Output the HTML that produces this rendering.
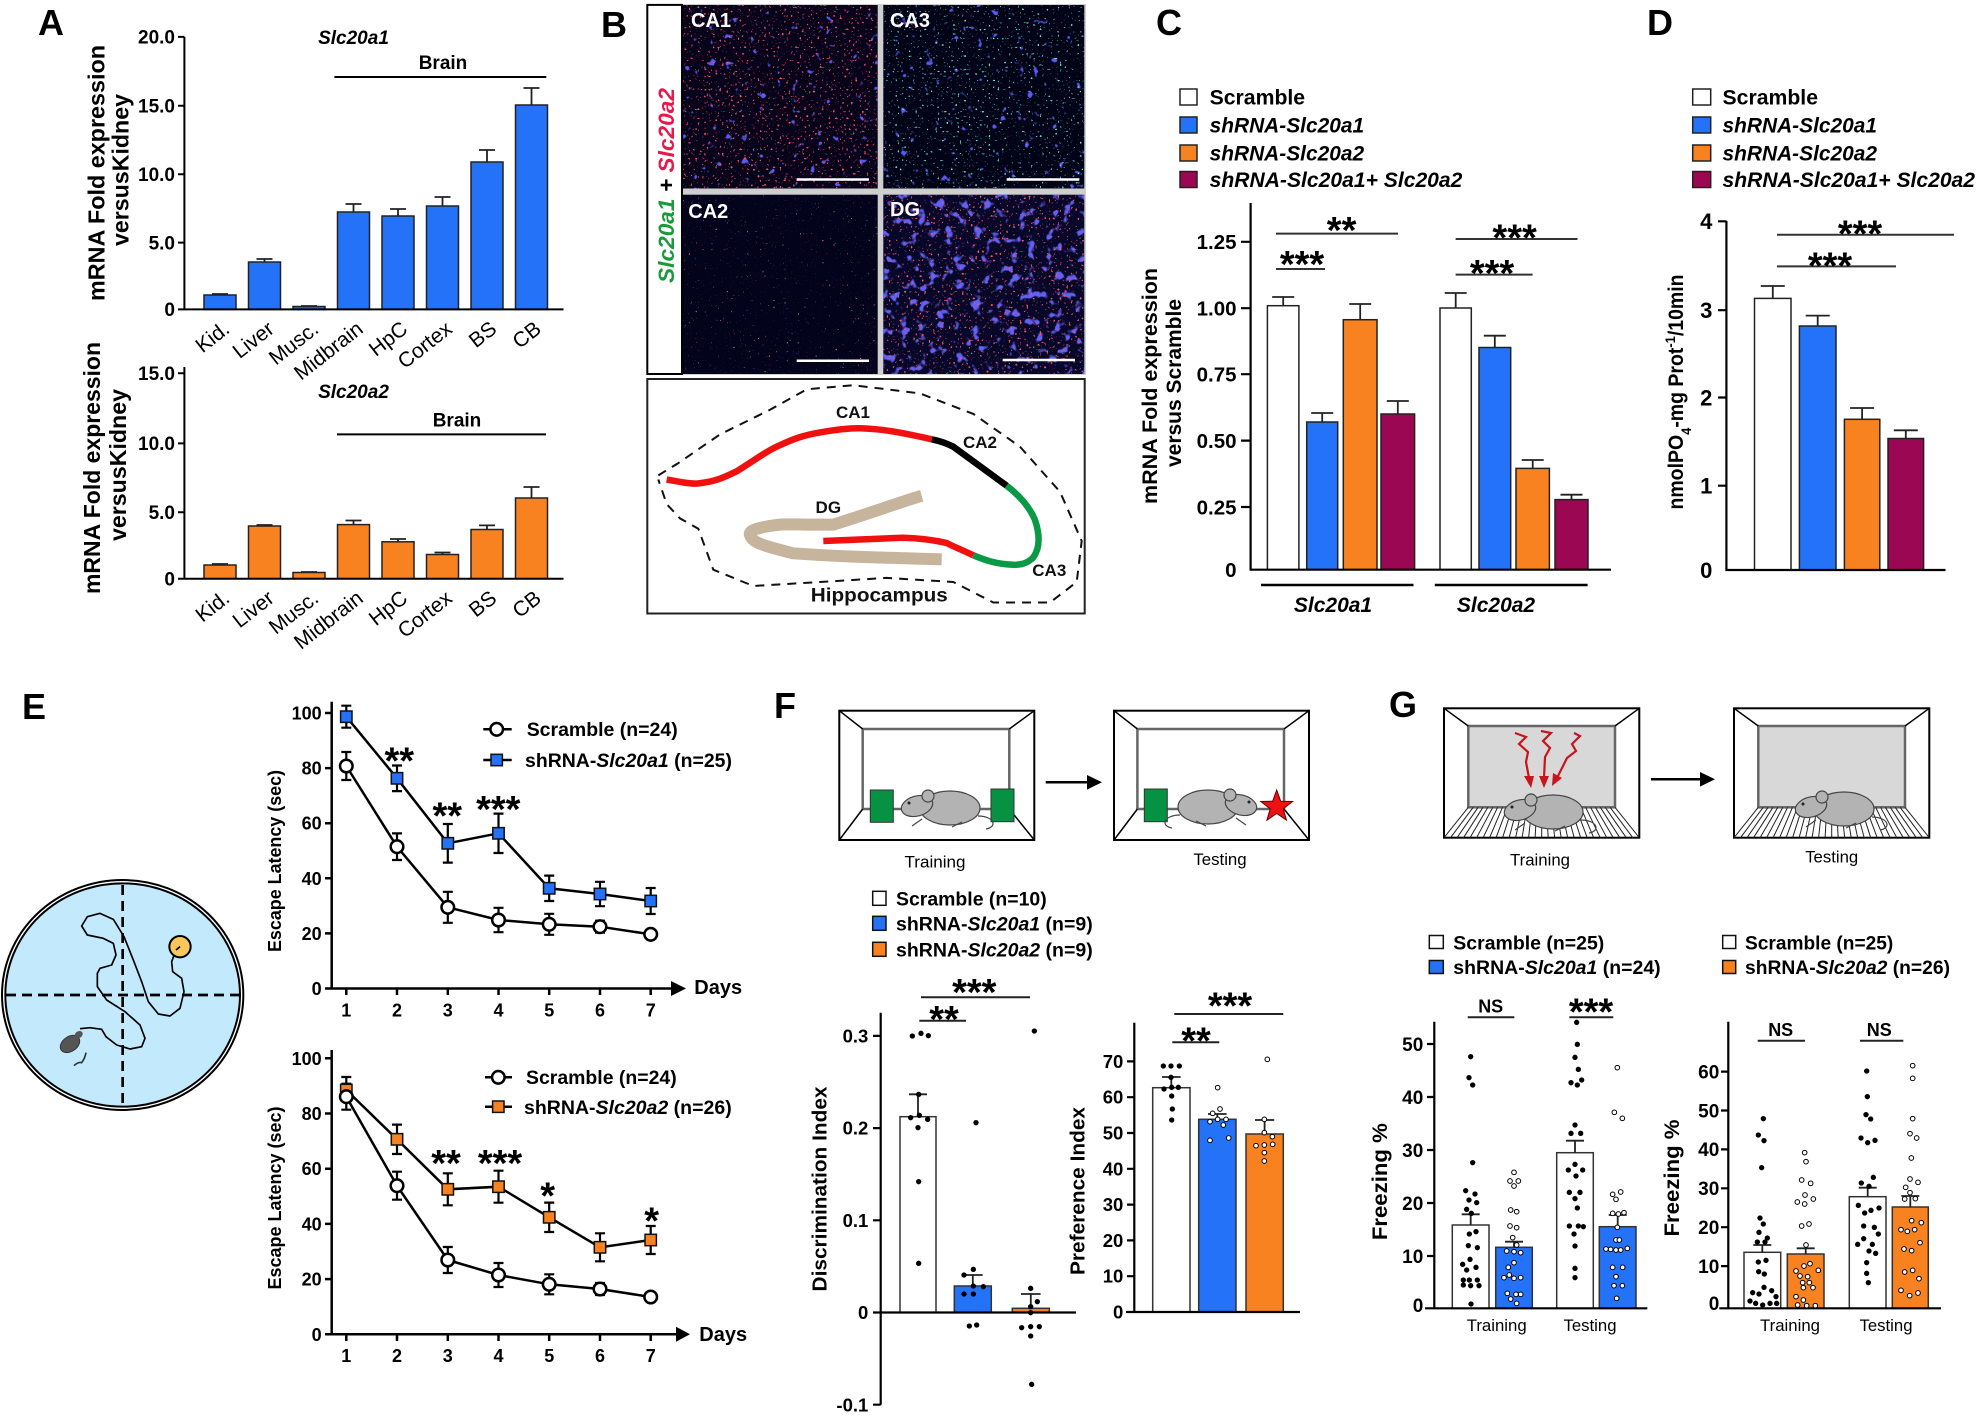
<!DOCTYPE html>
<html><head><meta charset="utf-8"><style>
html,body{margin:0;padding:0;background:#fff;}
svg{display:block;}
text{font-family:"Liberation Sans",Arial,sans-serif;}
</style></head><body>
<svg width="1976" height="1421" viewBox="0 0 1976 1421" xmlns="http://www.w3.org/2000/svg">
<rect width="1976" height="1421" fill="#fff"/>
<defs>
<filter id="blueS" x="0" y="0" width="1" height="1"><feTurbulence type="fractalNoise" baseFrequency="0.12" numOctaves="2" seed="3"/><feColorMatrix type="matrix" values="0 0 0 0 0.1 0 0 0 0 0.1 0 0 0 0 0.9 12 0 0 0 -8.4"/></filter>
<filter id="blueD" x="0" y="0" width="1" height="1"><feTurbulence type="fractalNoise" baseFrequency="0.11" numOctaves="2" seed="5"/><feColorMatrix type="matrix" values="0 0 0 0 0.12 0 0 0 0 0.12 0 0 0 0 0.92 8 0 0 0 -4.7"/></filter>
<filter id="blueF" x="0" y="0" width="1" height="1"><feTurbulence type="fractalNoise" baseFrequency="0.6" numOctaves="1" seed="9"/><feColorMatrix type="matrix" values="0 0 0 0 0.1 0 0 0 0 0.1 0 0 0 0 0.65 10 0 0 0 -7"/></filter>
<filter id="redS" x="0" y="0" width="1" height="1"><feTurbulence type="fractalNoise" baseFrequency="0.45" numOctaves="1" seed="7"/><feColorMatrix type="matrix" values="0 0 0 0 1 0 0 0 0 0.08 0 0 0 0 0.12 14 0 0 0 -9.0"/></filter>
<filter id="redT" x="0" y="0" width="1" height="1"><feTurbulence type="fractalNoise" baseFrequency="0.45" numOctaves="1" seed="13"/><feColorMatrix type="matrix" values="0 0 0 0 1 0 0 0 0 0.1 0 0 0 0 0.2 14 0 0 0 -10.2"/></filter>
<filter id="grnS" x="0" y="0" width="1" height="1"><feTurbulence type="fractalNoise" baseFrequency="0.45" numOctaves="1" seed="11"/><feColorMatrix type="matrix" values="0 0 0 0 0.1 0 0 0 0 0.9 0 0 0 0 0.6 14 0 0 0 -9.4"/></filter>
<g id="mouse">
 <path d="M78 30 C94 30 98 41 86 43" fill="none" stroke="#444" stroke-width="1.2"/>
 <ellipse cx="50" cy="22" rx="30" ry="17" fill="#b3b3b3" stroke="#444" stroke-width="1.2"/>
 <ellipse cx="17" cy="20" rx="16" ry="10" fill="#b3b3b3" stroke="#444" stroke-width="1.2" transform="rotate(-15 17 20)"/>
 <circle cx="28" cy="10" r="6" fill="#b3b3b3" stroke="#444" stroke-width="1.2"/>
 <circle cx="9" cy="17" r="1.5" fill="#222"/>
 <path d="M22 33 L12 40 M62 36 L52 41" stroke="#444" stroke-width="1.2"/>
</g>
<g id="hatch" stroke="#222" stroke-width="1">
<path d="M1468.3 807.3L1444 837.7M1473.2 807.3L1450.5 837.7M1478.1 807.3L1457 837.7M1483 807.3L1463.5 837.7M1487.9 807.3L1470 837.7M1492.8 807.3L1476.6 837.7M1497.6 807.3L1483.1 837.7M1502.5 807.3L1489.6 837.7M1507.4 807.3L1496.1 837.7M1512.3 807.3L1502.6 837.7M1517.2 807.3L1509.1 837.7M1522.1 807.3L1515.6 837.7M1527 807.3L1522.1 837.7M1531.9 807.3L1528.6 837.7M1536.8 807.3L1535.1 837.7M1541.7 807.3L1541.7 837.7M1546.5 807.3L1548.2 837.7M1551.4 807.3L1554.7 837.7M1556.3 807.3L1561.2 837.7M1561.2 807.3L1567.7 837.7M1566.1 807.3L1574.2 837.7M1571 807.3L1580.7 837.7M1575.9 807.3L1587.2 837.7M1580.8 807.3L1593.7 837.7M1585.7 807.3L1600.2 837.7M1590.6 807.3L1606.8 837.7M1595.4 807.3L1613.3 837.7M1600.3 807.3L1619.8 837.7M1605.2 807.3L1626.3 837.7M1610.1 807.3L1632.8 837.7M1615 807.3L1639.3 837.7"/>
</g>
<g id="gbox">
 <rect x="1444" y="708.3" width="195.3" height="129.4" fill="#fff" stroke="#000" stroke-width="2"/>
 <rect x="1468.3" y="726" width="146.7" height="81.3" fill="#d8d8d8" stroke="#666" stroke-width="2.5"/>
 <path d="M1444 708.3L1468.3 726M1639.3 708.3L1615 726" stroke="#000" stroke-width="1.5"/>
 <use href="#hatch"/>
</g>
<g id="fbox">
 <rect x="839.3" y="710.7" width="195" height="129.3" fill="#fff" stroke="#000" stroke-width="2"/>
 <rect x="862.7" y="729" width="146.6" height="80" fill="none" stroke="#666" stroke-width="2.5"/>
 <path d="M839.3 710.7L862.7 729M1034.3 710.7L1009.3 729M839.3 840L862.7 809M1034.3 840L1009.3 809" stroke="#000" stroke-width="1.5"/>
</g>
</defs>

<!-- Panel letters -->
<g font-weight="bold" font-size="36">
<text x="38" y="35">A</text><text x="601" y="37">B</text><text x="1156" y="35">C</text><text x="1647" y="35">D</text>
<text x="22" y="719">E</text><text x="774" y="718">F</text><text x="1389" y="717">G</text>
</g>

<!-- ============ PANEL A TOP ============ -->
<g fill="#2372f8" stroke="#222" stroke-width="1.5">
<rect x="204" y="295" width="32" height="14.4"/><rect x="248.5" y="262" width="32" height="47.4"/>
<rect x="293" y="306.5" width="32" height="2.9"/><rect x="337.5" y="212" width="32" height="97.4"/>
<rect x="382" y="216" width="32" height="93.4"/><rect x="426.5" y="206" width="32" height="103.4"/>
<rect x="471" y="162" width="32" height="147.4"/><rect x="515.5" y="105" width="32" height="204.4"/>
</g>
<path d="M212 294H228M264.5 262V259M256.5 259H272.5M301 306H317M353.5 212V204M345.5 204H361.5M398 216V209M390 209H406M442.5 206V197M434.5 197H450.5M487 162V150M479 150H495M531.5 105V88M523.5 88H539.5" stroke="#222" stroke-width="1.8" fill="none"/>
<path d="M184.4 36.9V309.4H563.5M178 36.9H184.4M178 105.7H184.4M178 174.2H184.4M178 242.6H184.4M178 309.4H184.4" stroke="#000" stroke-width="2" fill="none"/>
<g font-weight="bold" font-size="19" text-anchor="end">
<text x="175" y="43.7">20.0</text><text x="175" y="112.5">15.0</text><text x="175" y="181">10.0</text><text x="175" y="249.4">5.0</text><text x="175" y="316.2">0</text>
</g>
<text x="353.5" y="44" font-weight="bold" font-style="italic" font-size="19" text-anchor="middle">Slc20a1</text>
<text x="443" y="69" font-weight="bold" font-size="19" text-anchor="middle">Brain</text>
<path d="M334.4 77H546.3" stroke="#000" stroke-width="2"/>
<g font-size="21" text-anchor="end">
<text transform="translate(231,331.4) rotate(-38)">Kid.</text>
<text transform="translate(275.5,331.4) rotate(-38)">Liver</text>
<text transform="translate(320,331.4) rotate(-38)">Musc.</text>
<text transform="translate(364.5,331.4) rotate(-38)">Midbrain</text>
<text transform="translate(409,331.4) rotate(-38)">HpC</text>
<text transform="translate(453.5,331.4) rotate(-38)">Cortex</text>
<text transform="translate(498,331.4) rotate(-38)">BS</text>
<text transform="translate(542.5,331.4) rotate(-38)">CB</text>
</g>
<g font-weight="bold" font-size="23" text-anchor="middle">
<text transform="translate(104.5,173) rotate(-90)" textLength="256" lengthAdjust="spacingAndGlyphs">mRNA Fold expression</text>
<text transform="translate(128.5,170) rotate(-90)" textLength="152" lengthAdjust="spacingAndGlyphs">versusKidney</text>
</g>

<!-- ============ PANEL A BOTTOM ============ -->
<g fill="#f7821f" stroke="#222" stroke-width="1.5">
<rect x="204" y="565" width="32" height="13.7"/><rect x="248.5" y="526" width="32" height="52.7"/>
<rect x="293" y="572.5" width="32" height="6.2"/><rect x="337.5" y="524.6" width="32" height="54.1"/>
<rect x="382" y="541.8" width="32" height="36.9"/><rect x="426.5" y="554.5" width="32" height="24.2"/>
<rect x="471" y="529.5" width="32" height="49.2"/><rect x="515.5" y="498" width="32" height="80.7"/>
</g>
<path d="M212 564H228M256.5 525H272.5M301 572H317M353.5 524.6V520.5M345.5 520.5H361.5M398 541.8V539M390 539H406M442.5 554.5V552.5M434.5 552.5H450.5M487 529.5V525.4M479 525.4H495M531.5 498V487M523.5 487H539.5" stroke="#222" stroke-width="1.8" fill="none"/>
<path d="M184.4 367V578.7H563.5M178 373.2H184.4M178 443.4H184.4M178 512.3H184.4M178 578.7H184.4" stroke="#000" stroke-width="2" fill="none"/>
<g font-weight="bold" font-size="19" text-anchor="end">
<text x="175" y="380">15.0</text><text x="175" y="450.2">10.0</text><text x="175" y="519.1">5.0</text><text x="175" y="585.5">0</text>
</g>
<text x="353.5" y="398" font-weight="bold" font-style="italic" font-size="19" text-anchor="middle">Slc20a2</text>
<text x="457" y="426.5" font-weight="bold" font-size="19" text-anchor="middle">Brain</text>
<path d="M337 434.4H546" stroke="#000" stroke-width="2"/>
<g font-size="21" text-anchor="end">
<text transform="translate(231,600.7) rotate(-38)">Kid.</text>
<text transform="translate(275.5,600.7) rotate(-38)">Liver</text>
<text transform="translate(320,600.7) rotate(-38)">Musc.</text>
<text transform="translate(364.5,600.7) rotate(-38)">Midbrain</text>
<text transform="translate(409,600.7) rotate(-38)">HpC</text>
<text transform="translate(453.5,600.7) rotate(-38)">Cortex</text>
<text transform="translate(498,600.7) rotate(-38)">BS</text>
<text transform="translate(542.5,600.7) rotate(-38)">CB</text>
</g>
<g font-weight="bold" font-size="23" text-anchor="middle">
<text transform="translate(100,468) rotate(-90)" textLength="252" lengthAdjust="spacingAndGlyphs">mRNA Fold expression</text>
<text transform="translate(126,465) rotate(-90)" textLength="152" lengthAdjust="spacingAndGlyphs">versusKidney</text>
</g>

<!-- ============ PANEL B ============ -->
<rect x="680" y="4" width="406" height="371" fill="#cfcfcf"/>
<rect x="682" y="5" width="195.7" height="183.5" fill="#07031a"/>
<rect x="682" y="5" width="195.7" height="183.5" filter="url(#blueS)"/>
<rect x="682" y="5" width="195.7" height="183.5" filter="url(#redS)"/>
<rect x="883.3" y="5" width="201" height="183.5" fill="#030318"/>
<rect x="883.3" y="5" width="201" height="183.5" filter="url(#blueS)"/>
<rect x="883.3" y="5" width="201" height="183.5" filter="url(#grnS)"/>
<rect x="682" y="194.7" width="195.7" height="179.3" fill="#03031c"/>
<rect x="682" y="194.7" width="195.7" height="179.3" filter="url(#blueF)"/>
<rect x="682" y="194.7" width="195.7" height="179.3" filter="url(#redT)"/>
<rect x="883.3" y="194.7" width="201" height="179.3" fill="#07072a"/>
<rect x="883.3" y="194.7" width="201" height="179.3" filter="url(#blueD)"/>
<rect x="883.3" y="194.7" width="201" height="179.3" filter="url(#redS)"/>
<rect x="647.3" y="4.9" width="34.7" height="369.1" fill="#fff" stroke="#000" stroke-width="2"/>
<g font-weight="bold" font-size="20" fill="#fff">
<text x="691" y="27">CA1</text><text x="890" y="27">CA3</text><text x="688.3" y="218">CA2</text><text x="890" y="216">DG</text>
</g>
<path d="M796.7 179.5H869M1006.7 179.5H1079.3M796.7 360.7H869M1002.7 360H1075" stroke="#fff" stroke-width="2.5"/>
<text transform="translate(674,185.5) rotate(-90)" text-anchor="middle" font-weight="bold" font-style="italic" font-size="22.5" textLength="195" lengthAdjust="spacingAndGlyphs"><tspan fill="#1a9a3a">Slc20a1</tspan><tspan fill="#000"> + </tspan><tspan fill="#e8194a">Slc20a2</tspan></text>
<rect x="647.3" y="379" width="437.4" height="234.5" fill="#fff" stroke="#222" stroke-width="2"/>
<path d="M658.3 475.4L678.3 463.1L720 434.4L770 409.8L806.7 389.3L853.3 385.2L920 393.4L973.3 413.9L1020 446.7L1060 491.8L1081.7 541L1076.7 582L1050 602.5L993.3 602.5L953.3 582L886.7 577.9L820 582L753.3 586L713.3 569.7L698.3 528.7L680 518.4L666.7 504.1L658.3 479.5" fill="none" stroke="#111" stroke-width="2" stroke-dasharray="9 7"/>
<path d="M921.7 495.9C900 502 880 510 833.3 524.6C810 525 790 524 780 524.6C760 527 748 530 750 535C752 542 760 545 793.3 553.3C830 556 860 557 941.7 559.4" fill="none" stroke="#c6b49c" stroke-width="12"/>
<path d="M666.7 479.5C680 482 690 484 696.7 483.6C715 482 725 477 736.7 471.3C755 460 765 452 776.7 446.7C795 438 805 435 820 432.4C840 429 850 428 860 428.3C880 429 895 431 931.7 439.3" fill="none" stroke="#f01010" stroke-width="6.5"/>
<path d="M931.7 439.3C940 441 946 443 953.3 446.7L1006.7 485.7" fill="none" stroke="#000" stroke-width="6.5"/>
<path d="M1006.7 485.7C1020 496 1030 508 1035 520C1040 535 1040 548 1033.3 557.4C1027 564 1020 565 1013.3 564.8C995 564 985 560 973.3 555.3" fill="none" stroke="#0a9a45" stroke-width="6.5"/>
<path d="M973.3 555.3C960 549 950 545 946.7 543C930 539 915 538 903.3 537.7L823.3 541" fill="none" stroke="#f01010" stroke-width="6.5"/>
<g font-weight="bold" font-size="17" text-anchor="middle" fill="#111">
<text x="853" y="418">CA1</text><text x="980" y="448">CA2</text><text x="828.3" y="513">DG</text><text x="1049.3" y="576">CA3</text>
<text x="879.3" y="601.5" font-size="19" textLength="137" lengthAdjust="spacingAndGlyphs">Hippocampus</text>
</g>

<!-- ============ PANEL C ============ -->
<g stroke="#222" stroke-width="1.5">
<rect x="1180" y="89" width="17" height="16" fill="#fff"/>
<rect x="1180" y="117" width="17" height="16" fill="#2372f8"/>
<rect x="1180" y="145" width="17" height="16" fill="#f7821f"/>
<rect x="1180" y="171.5" width="17" height="16" fill="#9b0753"/>
<rect x="1692.7" y="89" width="18" height="16" fill="#fff"/>
<rect x="1692.7" y="117" width="18" height="16" fill="#2372f8"/>
<rect x="1692.7" y="145" width="18" height="16" fill="#f7821f"/>
<rect x="1692.7" y="171.5" width="18" height="16" fill="#9b0753"/>
</g>
<g font-weight="bold" font-size="21">
<text x="1209.6" y="104.5" textLength="95.5" lengthAdjust="spacingAndGlyphs">Scramble</text>
<text x="1209.6" y="132.5" font-style="italic" textLength="154.5" lengthAdjust="spacingAndGlyphs">shRNA-Slc20a1</text>
<text x="1209.6" y="160.4" font-style="italic" textLength="154.5" lengthAdjust="spacingAndGlyphs">shRNA-Slc20a2</text>
<text x="1209.6" y="187" font-style="italic" textLength="252.8" lengthAdjust="spacingAndGlyphs">shRNA-Slc20a1+ Slc20a2</text>
<text x="1722.5" y="104.5" textLength="95.5" lengthAdjust="spacingAndGlyphs">Scramble</text>
<text x="1722.5" y="132.5" font-style="italic" textLength="154.5" lengthAdjust="spacingAndGlyphs">shRNA-Slc20a1</text>
<text x="1722.5" y="160.4" font-style="italic" textLength="154.5" lengthAdjust="spacingAndGlyphs">shRNA-Slc20a2</text>
<text x="1722.5" y="187" font-style="italic" textLength="252.5" lengthAdjust="spacingAndGlyphs">shRNA-Slc20a1+ Slc20a2</text>
</g>
<g stroke="#222" stroke-width="1.5">
<rect x="1267.4" y="305.7" width="31.5" height="264" fill="#fff"/>
<rect x="1306.7" y="422" width="31" height="147.7" fill="#2372f8"/>
<rect x="1343.3" y="319.7" width="33.7" height="250" fill="#f7821f"/>
<rect x="1381" y="414" width="33.6" height="155.7" fill="#9b0753"/>
<rect x="1440" y="308" width="31.3" height="261.7" fill="#fff"/>
<rect x="1479" y="347.5" width="31.7" height="222.2" fill="#2372f8"/>
<rect x="1516" y="468.4" width="33.4" height="101.3" fill="#f7821f"/>
<rect x="1555" y="499.6" width="33" height="70.1" fill="#9b0753"/>
<rect x="1754.5" y="298.4" width="36.5" height="271.6" fill="#fff"/>
<rect x="1799.4" y="326" width="36.6" height="244" fill="#2372f8"/>
<rect x="1844.4" y="419.3" width="35.4" height="150.7" fill="#f7821f"/>
<rect x="1888" y="438.5" width="35.6" height="131.5" fill="#9b0753"/>
</g>
<path d="M1283.2 305.7V297M1272.2 297H1294.2M1322.2 422V413M1311.2 413H1333.2M1360.2 319.7V304M1349.2 304H1371.2M1397.8 414V401M1386.8 401H1408.8M1455.7 308V293M1444.7 293H1466.7M1494.8 347.5V335.7M1483.8 335.7H1505.8M1532.7 468.4V460M1521.7 460H1543.7M1571.5 499.6V494.7M1560.5 494.7H1582.5M1772.8 298.4V286M1760.8 286H1784.8M1817.7 326V315.6M1805.7 315.6H1829.7M1862.1 419.3V408M1850.1 408H1874.1M1905.8 438.5V430.3M1893.8 430.3H1917.8" stroke="#222" stroke-width="1.8" fill="none"/>
<path d="M1250.6 203V569.7H1611M1241 241.8H1250.6M1241 308.2H1250.6M1241 374.2H1250.6M1241 440.6H1250.6M1241 507H1250.6M1726.4 221V570H1945.5M1718 221.3H1726.4M1718 310.2H1726.4M1718 397.5H1726.4M1718 485.7H1726.4" stroke="#000" stroke-width="2.2" fill="none"/>
<path d="M1261 585H1413.5M1434.8 585H1587.6" stroke="#000" stroke-width="2.5"/>
<g font-weight="bold" font-size="20.5" text-anchor="end">
<text x="1236.5" y="249.1">1.25</text><text x="1236.5" y="315.5">1.00</text><text x="1236.5" y="381.5">0.75</text><text x="1236.5" y="447.9">0.50</text><text x="1236.5" y="514.3">0.25</text><text x="1236.5" y="577">0</text>
</g>
<g font-weight="bold" font-size="22" text-anchor="end">
<text x="1712.4" y="229">4</text><text x="1712.4" y="318">3</text><text x="1712.4" y="405.3">2</text><text x="1712.4" y="493.5">1</text><text x="1712.4" y="577.8">0</text>
</g>
<g font-weight="bold" font-style="italic" font-size="21" text-anchor="middle">
<text x="1333" y="612">Slc20a1</text><text x="1496" y="612">Slc20a2</text>
</g>
<g font-weight="bold" font-size="21" text-anchor="middle">
<text transform="translate(1157,386) rotate(-90)" textLength="236" lengthAdjust="spacingAndGlyphs">mRNA Fold expression</text>
<text transform="translate(1181,383) rotate(-90)" textLength="168" lengthAdjust="spacingAndGlyphs">versus Scramble</text>
<text transform="translate(1683,392) rotate(-90)" textLength="235" lengthAdjust="spacingAndGlyphs">nmolPO<tspan baseline-shift="sub" font-size="14">4</tspan>-mg Prot<tspan baseline-shift="super" font-size="14">-1</tspan>/10min</text>
</g>
<path d="M1276 233.6H1398M1276 269H1325M1455.6 239H1577.5M1455.6 274.6H1532.6M1777 234.8H1954M1777 266.4H1896" stroke="#333" stroke-width="2"/>
<g font-weight="bold" font-size="38" text-anchor="middle">
<text x="1341.6" y="242.8">**</text><text x="1302" y="276.8">***</text><text x="1514.6" y="250.5">***</text><text x="1492" y="285.8">***</text>
<text x="1860" y="246.4">***</text><text x="1830" y="278.4">***</text>
</g>

<!-- ============ PANEL E MAZE ============ -->
<g transform="translate(0,680) scale(0.33333)">
<ellipse cx="368" cy="945" rx="357" ry="340" fill="#c2e9fc" stroke="#000" stroke-width="16"/>
<ellipse cx="368" cy="945" rx="357" ry="340" fill="none" stroke="#fff" stroke-width="4"/>
<path d="M368 615V1278M18 945H718" stroke="#000" stroke-width="8" stroke-dasharray="30 18"/>
<polyline points="528,810 515,845 518,875 545,895 552,935 540,985 510,1008 475,1002 445,965 425,905 400,840 372,770 340,718 300,700 262,710 245,738 262,765 310,775 340,790 348,825 335,855 300,865 292,880 292,920 320,960 375,995 420,1035 435,1075 425,1100 390,1107 350,1095 318,1070 305,1048 270,1043 240,1046" fill="none" stroke="#000" stroke-width="5" stroke-linejoin="round"/>
<circle cx="540" cy="800" r="32" fill="#fbc75a" stroke="#000" stroke-width="6"/>
<path d="M528 810L540 800" stroke="#000" stroke-width="5"/>
<ellipse cx="210" cy="1092" rx="32" ry="22" fill="#555" stroke="#333" stroke-width="3" transform="rotate(-35 210 1092)"/>
<ellipse cx="236" cy="1064" rx="13" ry="10" fill="#555" transform="rotate(-35 236 1064)"/>
<path d="M222 1157Q235 1145 245 1148Q255 1135 258 1118" fill="none" stroke="#333" stroke-width="5"/>
</g>

<!-- ============ PANEL E TOP CHART ============ -->
<path d="M331.7 701.7V988.5H673M325 713H331.7M325 768.1H331.7M325 823.2H331.7M325 878.3H331.7M325 933.4H331.7M325 988.5H331.7M346.3 988.5V995M397 988.5V995M447.8 988.5V995M498.5 988.5V995M549.2 988.5V995M600 988.5V995M650.7 988.5V995" stroke="#000" stroke-width="2.5" fill="none"/>
<polygon points="671,981 686,988.5 671,996" fill="#000"/>
<g font-weight="bold" font-size="18" text-anchor="end">
<text x="321.7" y="719.5">100</text><text x="321.7" y="774.6">80</text><text x="321.7" y="829.7">60</text><text x="321.7" y="884.8">40</text><text x="321.7" y="939.9">20</text><text x="321.7" y="995">0</text>
</g>
<g font-weight="bold" font-size="18" text-anchor="middle">
<text x="346.3" y="1016.5">1</text><text x="397" y="1016.5">2</text><text x="447.8" y="1016.5">3</text><text x="498.5" y="1016.5">4</text><text x="549.2" y="1016.5">5</text><text x="600" y="1016.5">6</text><text x="650.7" y="1016.5">7</text>
</g>
<text x="694.3" y="994" font-weight="bold" font-size="20">Days</text>
<text transform="translate(281,861) rotate(-90)" text-anchor="middle" font-weight="bold" font-size="18" textLength="182" lengthAdjust="spacingAndGlyphs">Escape Latency (sec)</text>
<g fill="none" stroke="#000" stroke-width="2.5">
<polyline points="346.3,716.7 397,778.3 447.8,843.3 498.5,833.3 549.2,888.3 600,894 650.7,901"/>
<polyline points="346.3,766 397,846.7 447.8,907.3 498.5,920 549.2,924.3 600,926.7 650.7,934.3"/>
</g>
<path d="M346.3 752V780M341.3 752H351.3M341.3 780H351.3M397 833.4V860M392 833.4H402M392 860H402M447.8 891.8V922.8M442.8 891.8H452.8M442.8 922.8H452.8M498.5 907.8V932.2M493.5 907.8H503.5M493.5 932.2H503.5M549.2 913.8V934.8M544.2 913.8H554.2M544.2 934.8H554.2M600 920.7V932.7M595 920.7H605M595 932.7H605M346.3 705.7V727.7M341.3 705.7H351.3M341.3 727.7H351.3M397 765.5V791.1M392 765.5H402M392 791.1H402M447.8 824V862.6M442.8 824H452.8M442.8 862.6H452.8M498.5 813.6V853M493.5 813.6H503.5M493.5 853H503.5M549.2 875.6V901M544.2 875.6H554.2M544.2 901H554.2M600 881.8V906.2M595 881.8H605M595 906.2H605M650.7 888V914M645.7 888H655.7M645.7 914H655.7" stroke="#000" stroke-width="2.2" fill="none"/>
<g fill="#2372f8" stroke="#111" stroke-width="1.5">
<rect x="340.6" y="711" width="11.4" height="11.4"/><rect x="391.3" y="772.6" width="11.4" height="11.4"/><rect x="442.1" y="837.6" width="11.4" height="11.4"/><rect x="492.8" y="827.6" width="11.4" height="11.4"/><rect x="543.5" y="882.6" width="11.4" height="11.4"/><rect x="594.3" y="888.3" width="11.4" height="11.4"/><rect x="645" y="895.3" width="11.4" height="11.4"/>
</g>
<g fill="#fff" stroke="#000" stroke-width="2.5">
<circle cx="346.3" cy="766" r="6.3"/><circle cx="397" cy="846.7" r="6.3"/><circle cx="447.8" cy="907.3" r="6.3"/><circle cx="498.5" cy="920" r="6.3"/><circle cx="549.2" cy="924.3" r="6.3"/><circle cx="600" cy="926.7" r="6.3"/><circle cx="650.7" cy="934.3" r="6.3"/>
</g>
<path d="M483.3 729.3H511.7M483.3 760H511.7" stroke="#000" stroke-width="2.5"/>
<circle cx="496.7" cy="729.3" r="6.3" fill="#fff" stroke="#000" stroke-width="2.5"/>
<rect x="491" y="754.3" width="11.4" height="11.4" fill="#2372f8" stroke="#111" stroke-width="1.5"/>
<g font-weight="bold" font-size="19.5">
<text x="526.7" y="736" textLength="151" lengthAdjust="spacingAndGlyphs">Scramble (n=24)</text>
<text x="525" y="767" textLength="207" lengthAdjust="spacingAndGlyphs">shRNA-<tspan font-style="italic">Slc20a1</tspan> (n=25)</text>
</g>
<g font-weight="bold" font-size="38" text-anchor="middle">
<text x="399.3" y="773.5">**</text><text x="447.3" y="828.5">**</text><text x="498.3" y="821.8">***</text>
</g>

<!-- ============ PANEL E BOTTOM CHART ============ -->
<path d="M331.7 1050V1334.3H677M325 1058.3H331.7M325 1113.5H331.7M325 1168.7H331.7M325 1223.9H331.7M325 1279.1H331.7M325 1334.3H331.7M346.3 1334.3V1341M397 1334.3V1341M447.8 1334.3V1341M498.5 1334.3V1341M549.2 1334.3V1341M600 1334.3V1341M650.7 1334.3V1341" stroke="#000" stroke-width="2.5" fill="none"/>
<polygon points="676,1326.8 690,1334.3 676,1341.8" fill="#000"/>
<g font-weight="bold" font-size="18" text-anchor="end">
<text x="321.7" y="1064.8">100</text><text x="321.7" y="1120">80</text><text x="321.7" y="1175.2">60</text><text x="321.7" y="1230.4">40</text><text x="321.7" y="1285.6">20</text><text x="321.7" y="1340.8">0</text>
</g>
<g font-weight="bold" font-size="18" text-anchor="middle">
<text x="346.3" y="1362">1</text><text x="397" y="1362">2</text><text x="447.8" y="1362">3</text><text x="498.5" y="1362">4</text><text x="549.2" y="1362">5</text><text x="600" y="1362">6</text><text x="650.7" y="1362">7</text>
</g>
<text x="699.3" y="1341" font-weight="bold" font-size="20">Days</text>
<text transform="translate(281,1198) rotate(-90)" text-anchor="middle" font-weight="bold" font-size="18" textLength="183" lengthAdjust="spacingAndGlyphs">Escape Latency (sec)</text>
<g fill="none" stroke="#000" stroke-width="2.5">
<polyline points="346.3,1090 397,1139.3 447.8,1189.3 498.5,1186.7 549.2,1217.3 600,1247.3 650.7,1240"/>
<polyline points="346.3,1096.7 397,1185.7 447.8,1260 498.5,1275 549.2,1284.3 600,1289 650.7,1297"/>
</g>
<path d="M346.3 1083.7V1109.7M341.3 1083.7H351.3M341.3 1109.7H351.3M397 1171.7V1199.7M392 1171.7H402M392 1199.7H402M447.8 1247V1273M442.8 1247H452.8M442.8 1273H452.8M498.5 1263V1287M493.5 1263H503.5M493.5 1287H503.5M549.2 1274.3V1294.3M544.2 1274.3H554.2M544.2 1294.3H554.2M600 1283V1295M595 1283H605M595 1295H605M346.3 1077V1103M341.3 1077H351.3M397 1124.6V1154M392 1124.6H402M392 1154H402M447.8 1173.3V1205.3M442.8 1173.3H452.8M442.8 1205.3H452.8M498.5 1170.7V1202.7M493.5 1170.7H503.5M493.5 1202.7H503.5M549.2 1202.6V1232M544.2 1202.6H554.2M544.2 1232H554.2M600 1233.3V1261.3M595 1233.3H605M595 1261.3H605M650.7 1226V1254M645.7 1226H655.7M645.7 1254H655.7" stroke="#000" stroke-width="2.2" fill="none"/>
<g fill="#f7821f" stroke="#111" stroke-width="1.5">
<rect x="340.6" y="1084.3" width="11.4" height="11.4"/><rect x="391.3" y="1133.6" width="11.4" height="11.4"/><rect x="442.1" y="1183.6" width="11.4" height="11.4"/><rect x="492.8" y="1181" width="11.4" height="11.4"/><rect x="543.5" y="1211.6" width="11.4" height="11.4"/><rect x="594.3" y="1241.6" width="11.4" height="11.4"/><rect x="645" y="1234.3" width="11.4" height="11.4"/>
</g>
<g fill="#fff" stroke="#000" stroke-width="2.5">
<circle cx="346.3" cy="1096.7" r="6.3"/><circle cx="397" cy="1185.7" r="6.3"/><circle cx="447.8" cy="1260" r="6.3"/><circle cx="498.5" cy="1275" r="6.3"/><circle cx="549.2" cy="1284.3" r="6.3"/><circle cx="600" cy="1289" r="6.3"/><circle cx="650.7" cy="1297" r="6.3"/>
</g>
<path d="M485 1077.3H512M485 1106.7H512" stroke="#000" stroke-width="2.5"/>
<circle cx="498.3" cy="1077.3" r="6.3" fill="#fff" stroke="#000" stroke-width="2.5"/>
<rect x="492.6" y="1101" width="11.4" height="11.4" fill="#f7821f" stroke="#111" stroke-width="1.5"/>
<g font-weight="bold" font-size="19.5">
<text x="526" y="1084" textLength="150.7" lengthAdjust="spacingAndGlyphs">Scramble (n=24)</text>
<text x="524" y="1114" textLength="207.7" lengthAdjust="spacingAndGlyphs">shRNA-<tspan font-style="italic">Slc20a2</tspan> (n=26)</text>
</g>
<g font-weight="bold" font-size="38" text-anchor="middle">
<text x="446" y="1175.8">**</text><text x="500" y="1175.8">***</text><text x="547.7" y="1208.5">*</text><text x="651.7" y="1233.5">*</text>
</g>

<!-- ============ PANEL F DIAGRAM ============ -->
<use href="#fbox"/>
<use href="#fbox" transform="translate(274.7,0)"/>
<rect x="870.3" y="790" width="23" height="32.3" fill="#079142" stroke="#333" stroke-width="1"/>
<rect x="991" y="789" width="23" height="32.7" fill="#079142" stroke="#333" stroke-width="1"/>
<rect x="1144.3" y="789" width="23" height="32.7" fill="#079142" stroke="#333" stroke-width="1"/>
<use href="#mouse" transform="translate(900,786)"/>
<use href="#mouse" transform="translate(1258,785) scale(-1,1)"/>
<polygon points="1276.7,790 1280.7,801.2 1292.6,801.5 1283.2,808.8 1286.5,820.2 1276.7,813.5 1266.9,820.2 1270.2,808.8 1260.8,801.5 1272.7,801.2" fill="#ee1111" stroke="#600" stroke-width="1"/>
<path d="M1045.7 782.3H1090" stroke="#000" stroke-width="2.5"/>
<polygon points="1087,775 1102,782.3 1087,789.6" fill="#000"/>
<g font-size="17" text-anchor="middle">
<text x="935" y="867.5" textLength="61" lengthAdjust="spacingAndGlyphs">Training</text>
<text x="1220" y="865" textLength="53.3" lengthAdjust="spacingAndGlyphs">Testing</text>
</g>
<g stroke="#111" stroke-width="1.5">
<rect x="872.7" y="891.3" width="13.3" height="14" fill="#fff"/>
<rect x="872.7" y="916.3" width="13.3" height="14" fill="#2372f8"/>
<rect x="872.7" y="942.3" width="13.3" height="14" fill="#f7821f"/>
</g>
<g font-weight="bold" font-size="19.5">
<text x="896" y="905.3" textLength="150.7" lengthAdjust="spacingAndGlyphs">Scramble (n=10)</text>
<text x="896" y="930.3" textLength="196.7" lengthAdjust="spacingAndGlyphs">shRNA-<tspan font-style="italic">Slc20a1</tspan> (n=9)</text>
<text x="896" y="956.3" textLength="196.7" lengthAdjust="spacingAndGlyphs">shRNA-<tspan font-style="italic">Slc20a2</tspan> (n=9)</text>
</g>

<!-- ============ PANEL F CHARTS ============ -->
<g stroke="#333" stroke-width="1.5">
<rect x="900" y="1116.7" width="36" height="195.8" fill="#fff"/>
<rect x="954.3" y="1286" width="37" height="26.5" fill="#2372f8"/>
<rect x="1012.3" y="1308.3" width="37" height="4.2" fill="#f7821f"/>
<rect x="1152.7" y="1087.7" width="37.3" height="224.3" fill="#fff"/>
<rect x="1198.7" y="1119.3" width="37.3" height="192.7" fill="#2372f8"/>
<rect x="1246" y="1134" width="37.3" height="178" fill="#f7821f"/>
</g>
<path d="M918 1116.7V1094.3M909 1094.3H927M972.8 1286V1275M963 1275H982.6M1030.8 1308.3V1294M1021 1294H1040.6M1171.3 1087.7V1077M1162 1077H1180.6M1217.3 1119.3V1114M1208 1114H1226.6M1264.6 1134V1120M1255 1120H1274.2" stroke="#222" stroke-width="1.8" fill="none"/>
<path d="M880.7 1012.7V1404.7M873 1035.9H880.7M873 1128.1H880.7M873 1220.3H880.7M873 1404.7H880.7M873 1312.5H1076M1134.3 1022.7V1312M1126 1312H1300M1127 1276.2H1134.3M1127 1240.4H1134.3M1127 1204.6H1134.3M1127 1168.8H1134.3M1127 1133H1134.3M1127 1097.2H1134.3M1127 1061.4H1134.3" stroke="#000" stroke-width="2.2" fill="none"/>
<g font-weight="bold" font-size="18.5" text-anchor="end">
<text x="868.3" y="1042.5">0.3</text><text x="868.3" y="1134.7">0.2</text><text x="868.3" y="1226.9">0.1</text><text x="868.3" y="1319.1">0</text><text x="868.3" y="1411.3">-0.1</text>
<text x="1123.3" y="1318.5">0</text><text x="1123.3" y="1282.7">10</text><text x="1123.3" y="1246.9">20</text><text x="1123.3" y="1211.1">30</text><text x="1123.3" y="1175.3">40</text><text x="1123.3" y="1139.5">50</text><text x="1123.3" y="1103.7">60</text><text x="1123.3" y="1067.9">70</text>
</g>
<g font-weight="bold" font-size="20" text-anchor="middle">
<text transform="translate(826.5,1189) rotate(-90)" textLength="205" lengthAdjust="spacingAndGlyphs">Discrimination Index</text>
<text transform="translate(1084.5,1191) rotate(-90)" textLength="168" lengthAdjust="spacingAndGlyphs">Preference Index</text>
</g>
<path d="M921 997.3H1030M919.3 1020.7H966M1174.3 1014H1283.3M1172.3 1042.3H1219.3" stroke="#222" stroke-width="2"/>
<g font-weight="bold" font-size="38" text-anchor="middle">
<text x="974.3" y="1005.1">***</text><text x="944" y="1031.8">**</text><text x="1230" y="1018.5">***</text><text x="1196" y="1053.5">**</text>
</g>
<g transform="translate(790,990) scale(0.33333)">
<g fill="#000">
<circle cx="367" cy="138" r="8"/><circle cx="393" cy="130" r="8"/><circle cx="415" cy="137" r="8"/><circle cx="386" cy="313" r="8"/><circle cx="362" cy="383" r="8"/><circle cx="388" cy="376" r="8"/><circle cx="413" cy="388" r="8"/><circle cx="384" cy="413" r="8"/><circle cx="386" cy="575" r="8"/><circle cx="386" cy="820" r="8"/>
<circle cx="522" cy="855" r="8"/><circle cx="550" cy="838" r="8"/><circle cx="550" cy="888" r="8"/><circle cx="580" cy="890" r="8"/><circle cx="522" cy="912" r="8"/><circle cx="550" cy="912" r="8"/><circle cx="558" cy="398" r="8"/><circle cx="538" cy="1008" r="8"/><circle cx="560" cy="1005" r="8"/>
<circle cx="733" cy="123" r="8"/><circle cx="722" cy="895" r="8"/><circle cx="742" cy="935" r="8"/><circle cx="722" cy="950" r="8"/><circle cx="722" cy="968" r="8"/><circle cx="695" cy="1013" r="8"/><circle cx="722" cy="1010" r="8"/><circle cx="748" cy="1010" r="8"/><circle cx="722" cy="1038" r="8"/><circle cx="725" cy="1183" r="8"/>
<circle cx="1120" cy="228" r="8"/><circle cx="1143" cy="228" r="8"/><circle cx="1168" cy="228" r="8"/><circle cx="1143" cy="262" r="8"/><circle cx="1122" cy="297" r="8"/><circle cx="1145" cy="292" r="8"/><circle cx="1165" cy="292" r="8"/><circle cx="1145" cy="318" r="8"/><circle cx="1147" cy="357" r="8"/><circle cx="1145" cy="390" r="8"/>
</g>
<g fill="#fff" stroke="#000" stroke-width="3">
<circle cx="1283" cy="293" r="7"/><circle cx="1268" cy="370" r="7"/><circle cx="1290" cy="357" r="7"/><circle cx="1283" cy="388" r="7"/><circle cx="1308" cy="388" r="7"/><circle cx="1260" cy="395" r="7"/><circle cx="1300" cy="405" r="7"/><circle cx="1260" cy="451" r="7"/><circle cx="1316" cy="444" r="7"/>
<circle cx="1432" cy="208" r="7"/><circle cx="1423" cy="388" r="7"/><circle cx="1423" cy="428" r="7"/><circle cx="1398" cy="467" r="7"/><circle cx="1423" cy="465" r="7"/><circle cx="1448" cy="463" r="7"/><circle cx="1447" cy="440" r="7"/><circle cx="1423" cy="488" r="7"/><circle cx="1423" cy="513" r="7"/>
</g>
</g>

<!-- ============ PANEL G DIAGRAM ============ -->
<use href="#gbox"/>
<use href="#gbox" transform="translate(290,0)"/>
<use href="#mouse" transform="translate(1503,790)"/>
<use href="#mouse" transform="translate(1794,787)"/>
<g fill="none" stroke="#c8141a" stroke-width="2.2">
<polyline points="1515,733 1526,737 1519,744 1528,752 1526,762 1529,778"/>
<polyline points="1541,731 1551,733 1543,741 1550,748 1545,757 1544,778"/>
<polyline points="1574,733 1580,736 1572,744 1576,751 1567,758 1558,776"/>
</g>
<g fill="#c8141a">
<polygon points="1524,776 1534,776 1531,788"/><polygon points="1539,776 1549,776 1544,788"/><polygon points="1553,773 1562,778 1552,786"/>
</g>
<path d="M1651 779.3H1703" stroke="#000" stroke-width="2.5"/>
<polygon points="1700,772 1715,779.3 1700,786.6" fill="#000"/>
<g font-size="17" text-anchor="middle">
<text x="1540" y="865.3" textLength="60" lengthAdjust="spacingAndGlyphs">Training</text>
<text x="1831.7" y="862.7" textLength="53" lengthAdjust="spacingAndGlyphs">Testing</text>
</g>
<g stroke="#111" stroke-width="1.5">
<rect x="1429.3" y="935.5" width="14" height="13" fill="#fff"/>
<rect x="1429.3" y="960.5" width="14" height="13" fill="#2372f8"/>
<rect x="1722.7" y="935.5" width="13" height="13" fill="#fff"/>
<rect x="1722.7" y="960.5" width="13" height="13" fill="#f7821f"/>
</g>
<g font-weight="bold" font-size="19.5">
<text x="1453.3" y="949.3" textLength="151" lengthAdjust="spacingAndGlyphs">Scramble (n=25)</text>
<text x="1453.3" y="974" textLength="207.4" lengthAdjust="spacingAndGlyphs">shRNA-<tspan font-style="italic">Slc20a1</tspan> (n=24)</text>
<text x="1745" y="949.3" textLength="148.3" lengthAdjust="spacingAndGlyphs">Scramble (n=25)</text>
<text x="1745" y="974" textLength="205" lengthAdjust="spacingAndGlyphs">shRNA-<tspan font-style="italic">Slc20a2</tspan> (n=26)</text>
</g>

<!-- ============ PANEL G CHARTS ============ -->
<g stroke="#333" stroke-width="1.5">
<rect x="1452.3" y="1225" width="36.7" height="83.3" fill="#fff"/>
<rect x="1495.7" y="1247.3" width="36.6" height="61" fill="#2372f8"/>
<rect x="1556.7" y="1152.7" width="36.6" height="155.6" fill="#fff"/>
<rect x="1599.3" y="1226.7" width="36.7" height="81.6" fill="#2372f8"/>
<rect x="1744" y="1252.3" width="36.7" height="56" fill="#fff"/>
<rect x="1787.3" y="1254" width="36.7" height="54.3" fill="#f7821f"/>
<rect x="1849.3" y="1196.7" width="36.7" height="111.6" fill="#fff"/>
<rect x="1892.3" y="1207" width="36" height="101.3" fill="#f7821f"/>
</g>
<path d="M1470.7 1225V1214.3M1461.7 1214.3H1479.7M1514 1247.3V1241.7M1505 1241.7H1523M1575 1152.7V1140.7M1566 1140.7H1584M1617.7 1226.7V1215M1608.7 1215H1626.7M1762.3 1252.3V1245M1753.3 1245H1771.3M1805.7 1254V1248.3M1796.7 1248.3H1814.7M1867.7 1196.7V1187.7M1858.7 1187.7H1876.7M1910.3 1207V1196M1901.3 1196H1919.3" stroke="#222" stroke-width="1.8" fill="none"/>
<path d="M1434.3 1021.7V1308.3M1425 1308.3H1647.3M1427 1256H1434.3M1427 1203H1434.3M1427 1150H1434.3M1427 1097H1434.3M1427 1044H1434.3M1728.3 1021.7V1308.3M1719.3 1308.3H1941M1721 1266.1H1728.3M1721 1227.2H1728.3M1721 1188.3H1728.3M1721 1149.4H1728.3M1721 1110.5H1728.3M1721 1071.6H1728.3" stroke="#000" stroke-width="2.2" fill="none"/>
<g font-weight="bold" font-size="19" text-anchor="end">
<text x="1423.3" y="1312">0</text><text x="1423.3" y="1262.8">10</text><text x="1423.3" y="1209.8">20</text><text x="1423.3" y="1156.8">30</text><text x="1423.3" y="1103.8">40</text><text x="1423.3" y="1050.8">50</text>
<text x="1719.3" y="1310">0</text><text x="1719.3" y="1272.9">10</text><text x="1719.3" y="1234">20</text><text x="1719.3" y="1195.1">30</text><text x="1719.3" y="1156.2">40</text><text x="1719.3" y="1117.3">50</text><text x="1719.3" y="1078.4">60</text>
</g>
<g font-size="17" text-anchor="middle">
<text x="1496.7" y="1331" textLength="60" lengthAdjust="spacingAndGlyphs">Training</text>
<text x="1590" y="1331" textLength="53" lengthAdjust="spacingAndGlyphs">Testing</text>
<text x="1790" y="1331" textLength="60" lengthAdjust="spacingAndGlyphs">Training</text>
<text x="1886" y="1331" textLength="53" lengthAdjust="spacingAndGlyphs">Testing</text>
</g>
<g font-weight="bold" font-size="21" text-anchor="middle">
<text transform="translate(1387,1181.7) rotate(-90)" textLength="117" lengthAdjust="spacingAndGlyphs">Freezing %</text>
<text transform="translate(1679,1178) rotate(-90)" textLength="117" lengthAdjust="spacingAndGlyphs">Freezing %</text>
</g>
<path d="M1467.7 1017.3H1514.3M1569.3 1017.3H1613.3M1757.7 1040.7H1805M1860 1040.7H1903.3" stroke="#222" stroke-width="2"/>
<g font-weight="bold" font-size="18" text-anchor="middle">
<text x="1490.7" y="1012.5">NS</text><text x="1780.7" y="1035.8">NS</text><text x="1879.3" y="1035.8">NS</text>
</g>
<text x="1591" y="1024.5" font-weight="bold" font-size="38" text-anchor="middle">***</text>
<g transform="translate(1370,980) scale(0.33333)">
<g fill="#000">
<circle cx="302" cy="230" r="8"/><circle cx="297" cy="293" r="8"/><circle cx="308" cy="315" r="8"/><circle cx="308" cy="548" r="8"/><circle cx="287" cy="632" r="8"/><circle cx="315" cy="642" r="8"/><circle cx="297" cy="660" r="8"/><circle cx="320" cy="668" r="8"/><circle cx="290" cy="688" r="8"/><circle cx="304" cy="700" r="8"/><circle cx="298" cy="762" r="8"/><circle cx="318" cy="755" r="8"/><circle cx="295" cy="797" r="8"/><circle cx="322" cy="803" r="8"/><circle cx="300" cy="838" r="8"/><circle cx="278" cy="853" r="8"/><circle cx="318" cy="862" r="8"/><circle cx="290" cy="870" r="8"/><circle cx="280" cy="900" r="8"/><circle cx="298" cy="900" r="8"/><circle cx="322" cy="900" r="8"/><circle cx="280" cy="915" r="8"/><circle cx="302" cy="917" r="8"/><circle cx="327" cy="917" r="8"/><circle cx="303" cy="972" r="8"/>
<circle cx="620" cy="127" r="8"/><circle cx="622" cy="193" r="8"/><circle cx="615" cy="232" r="8"/><circle cx="625" cy="268" r="8"/><circle cx="603" cy="308" r="8"/><circle cx="635" cy="300" r="8"/><circle cx="622" cy="315" r="8"/><circle cx="615" cy="435" r="8"/><circle cx="603" cy="460" r="8"/><circle cx="632" cy="460" r="8"/><circle cx="615" cy="553" r="8"/><circle cx="595" cy="570" r="8"/><circle cx="638" cy="570" r="8"/><circle cx="618" cy="588" r="8"/><circle cx="598" cy="637" r="8"/><circle cx="630" cy="637" r="8"/><circle cx="615" cy="656" r="8"/><circle cx="622" cy="684" r="8"/><circle cx="598" cy="738" r="8"/><circle cx="625" cy="738" r="8"/><circle cx="640" cy="740" r="8"/><circle cx="612" cy="762" r="8"/><circle cx="615" cy="798" r="8"/><circle cx="615" cy="865" r="8"/><circle cx="615" cy="893" r="8"/>
</g>
<g fill="#fff" stroke="#000" stroke-width="3">
<circle cx="432" cy="577" r="7"/><circle cx="420" cy="603" r="7"/><circle cx="445" cy="603" r="7"/><circle cx="432" cy="618" r="7"/><circle cx="422" cy="690" r="7"/><circle cx="440" cy="695" r="7"/><circle cx="420" cy="738" r="7"/><circle cx="440" cy="743" r="7"/><circle cx="428" cy="773" r="7"/><circle cx="440" cy="795" r="7"/><circle cx="410" cy="813" r="7"/><circle cx="432" cy="815" r="7"/><circle cx="452" cy="818" r="7"/><circle cx="432" cy="848" r="7"/><circle cx="415" cy="862" r="7"/><circle cx="418" cy="885" r="7"/><circle cx="402" cy="893" r="7"/><circle cx="432" cy="895" r="7"/><circle cx="452" cy="893" r="7"/><circle cx="412" cy="940" r="7"/><circle cx="438" cy="943" r="7"/><circle cx="452" cy="943" r="7"/><circle cx="422" cy="957" r="7"/><circle cx="440" cy="970" r="7"/>
<circle cx="742" cy="263" r="7"/><circle cx="733" cy="397" r="7"/><circle cx="757" cy="415" r="7"/><circle cx="728" cy="643" r="7"/><circle cx="752" cy="636" r="7"/><circle cx="738" cy="658" r="7"/><circle cx="728" cy="700" r="7"/><circle cx="745" cy="702" r="7"/><circle cx="762" cy="698" r="7"/><circle cx="742" cy="742" r="7"/><circle cx="738" cy="780" r="7"/><circle cx="748" cy="780" r="7"/><circle cx="708" cy="807" r="7"/><circle cx="722" cy="808" r="7"/><circle cx="738" cy="810" r="7"/><circle cx="752" cy="810" r="7"/><circle cx="772" cy="805" r="7"/><circle cx="728" cy="862" r="7"/><circle cx="758" cy="862" r="7"/><circle cx="738" cy="890" r="7"/><circle cx="732" cy="917" r="7"/><circle cx="757" cy="917" r="7"/><circle cx="740" cy="955" r="7"/>
</g>
</g>
<g transform="translate(1660,980) scale(0.33333)">
<g fill="#000">
<circle cx="310" cy="416" r="8"/><circle cx="295" cy="465" r="8"/><circle cx="312" cy="482" r="8"/><circle cx="305" cy="563" r="8"/><circle cx="300" cy="714" r="8"/><circle cx="310" cy="732" r="8"/><circle cx="297" cy="757" r="8"/><circle cx="322" cy="774" r="8"/><circle cx="292" cy="786" r="8"/><circle cx="315" cy="786" r="8"/><circle cx="295" cy="846" r="8"/><circle cx="318" cy="841" r="8"/><circle cx="296" cy="875" r="8"/><circle cx="313" cy="882" r="8"/><circle cx="312" cy="922" r="8"/><circle cx="278" cy="938" r="8"/><circle cx="297" cy="942" r="8"/><circle cx="335" cy="932" r="8"/><circle cx="270" cy="963" r="8"/><circle cx="348" cy="950" r="8"/><circle cx="287" cy="970" r="8"/><circle cx="308" cy="975" r="8"/><circle cx="330" cy="970" r="8"/><circle cx="350" cy="970" r="8"/>
<circle cx="620" cy="273" r="8"/><circle cx="622" cy="350" r="8"/><circle cx="618" cy="404" r="8"/><circle cx="632" cy="417" r="8"/><circle cx="603" cy="474" r="8"/><circle cx="645" cy="481" r="8"/><circle cx="623" cy="488" r="8"/><circle cx="640" cy="592" r="8"/><circle cx="604" cy="609" r="8"/><circle cx="627" cy="619" r="8"/><circle cx="595" cy="676" r="8"/><circle cx="614" cy="699" r="8"/><circle cx="633" cy="691" r="8"/><circle cx="657" cy="684" r="8"/><circle cx="611" cy="738" r="8"/><circle cx="643" cy="742" r="8"/><circle cx="655" cy="762" r="8"/><circle cx="593" cy="793" r="8"/><circle cx="611" cy="776" r="8"/><circle cx="637" cy="793" r="8"/><circle cx="627" cy="813" r="8"/><circle cx="647" cy="820" r="8"/><circle cx="620" cy="848" r="8"/><circle cx="620" cy="880" r="8"/><circle cx="625" cy="908" r="8"/>
</g>
<g fill="#fff" stroke="#000" stroke-width="3">
<circle cx="434" cy="518" r="7"/><circle cx="438" cy="545" r="7"/><circle cx="425" cy="600" r="7"/><circle cx="452" cy="610" r="7"/><circle cx="435" cy="645" r="7"/><circle cx="460" cy="657" r="7"/><circle cx="412" cy="666" r="7"/><circle cx="434" cy="672" r="7"/><circle cx="425" cy="738" r="7"/><circle cx="447" cy="732" r="7"/><circle cx="438" cy="795" r="7"/><circle cx="432" cy="858" r="7"/><circle cx="450" cy="851" r="7"/><circle cx="408" cy="873" r="7"/><circle cx="420" cy="888" r="7"/><circle cx="443" cy="890" r="7"/><circle cx="475" cy="871" r="7"/><circle cx="428" cy="908" r="7"/><circle cx="448" cy="908" r="7"/><circle cx="459" cy="923" r="7"/><circle cx="430" cy="923" r="7"/><circle cx="408" cy="950" r="7"/><circle cx="430" cy="960" r="7"/><circle cx="413" cy="975" r="7"/><circle cx="440" cy="977" r="7"/><circle cx="466" cy="977" r="7"/>
<circle cx="758" cy="257" r="7"/><circle cx="758" cy="295" r="7"/><circle cx="758" cy="416" r="7"/><circle cx="750" cy="461" r="7"/><circle cx="770" cy="474" r="7"/><circle cx="754" cy="534" r="7"/><circle cx="750" cy="597" r="7"/><circle cx="774" cy="607" r="7"/><circle cx="737" cy="622" r="7"/><circle cx="750" cy="638" r="7"/><circle cx="766" cy="656" r="7"/><circle cx="734" cy="657" r="7"/><circle cx="755" cy="722" r="7"/><circle cx="784" cy="728" r="7"/><circle cx="723" cy="749" r="7"/><circle cx="742" cy="754" r="7"/><circle cx="764" cy="749" r="7"/><circle cx="732" cy="807" r="7"/><circle cx="755" cy="812" r="7"/><circle cx="780" cy="788" r="7"/><circle cx="734" cy="876" r="7"/><circle cx="758" cy="871" r="7"/><circle cx="777" cy="896" r="7"/><circle cx="723" cy="931" r="7"/><circle cx="749" cy="947" r="7"/><circle cx="774" cy="939" r="7"/>
</g>
</g>
</svg>
</body></html>
